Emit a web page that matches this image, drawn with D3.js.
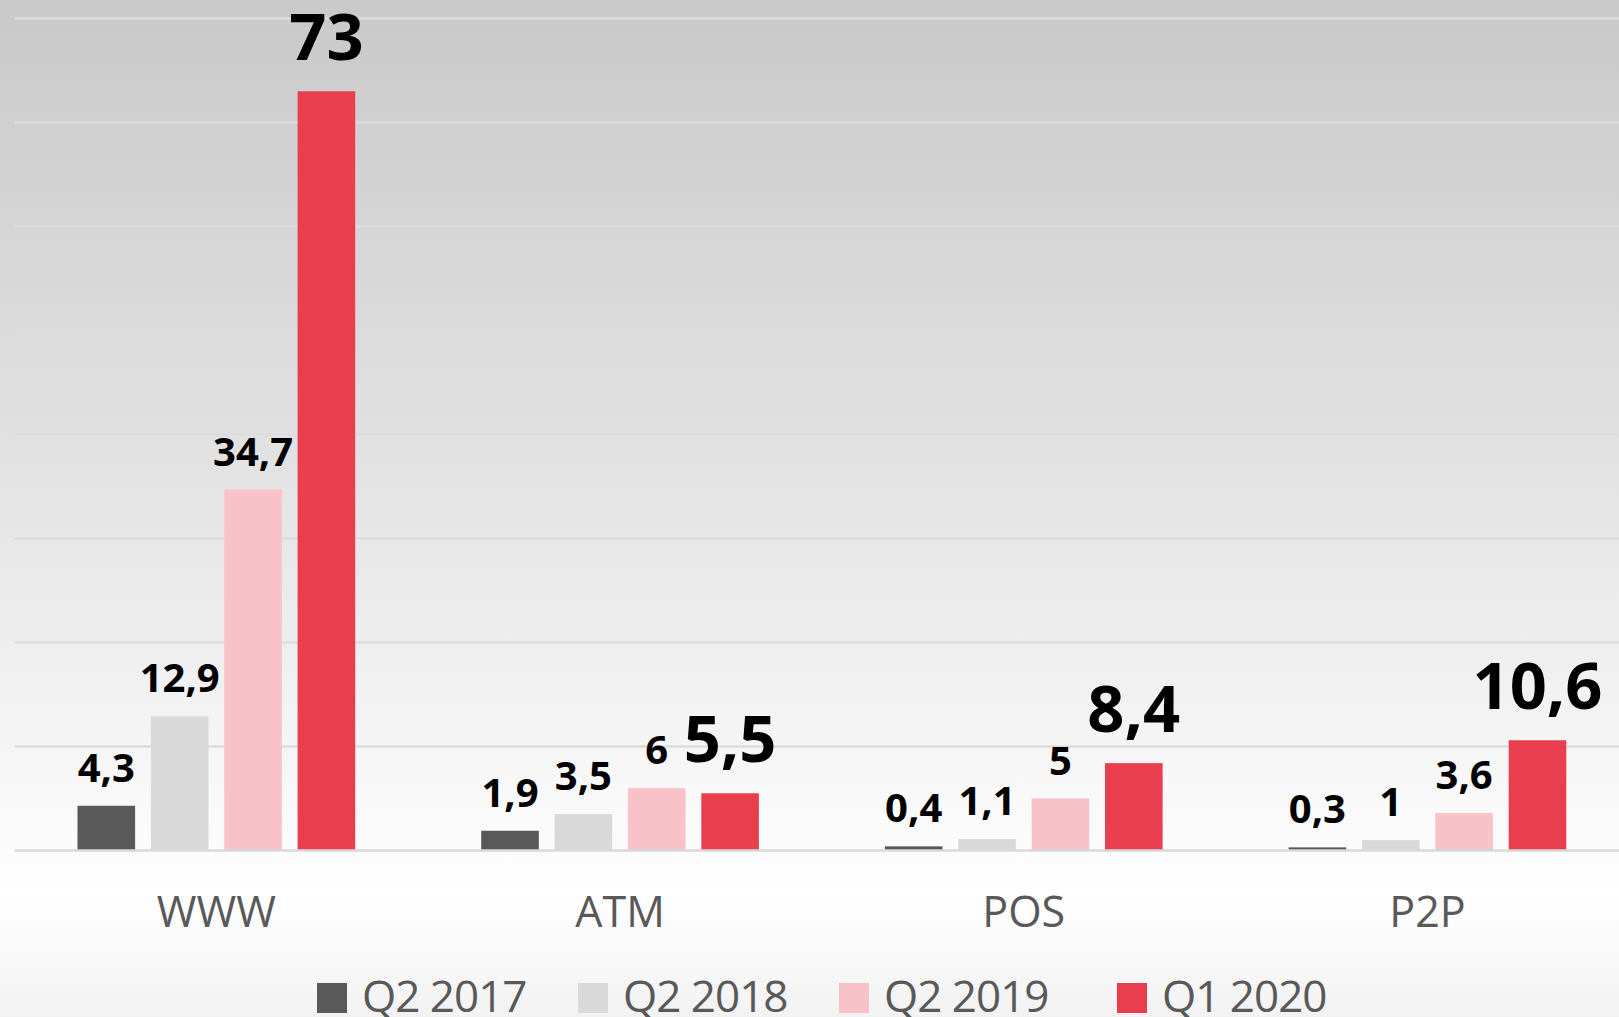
<!DOCTYPE html>
<html>
<head>
<meta charset="utf-8">
<script src="https://cdn.jsdelivr.net/npm/d3@7"></script>
<style>
  html, body { margin: 0; padding: 0; background: #ffffff; }
  svg { display: block; }
</style>
</head>
<body>
<svg class="svg1" width="1619" height="1017"></svg>
<script>
var categories = ["WWW", "ATM", "POS", "P2P"];
var seriesNames = ["Q2 2017", "Q2 2018", "Q2 2019", "Q1 2020"];
var seriesColors = ["#595959", "#d9d9d9", "#f8c2c8", "#e83e4e"];

var valuesQ22017 = [4.3, 1.9, 0.4, 0.3];
var valuesQ22018 = [12.9, 3.5, 1.1, 1];
var valuesQ22019 = [34.7, 6, 5, 3.6];
var valuesQ12020 = [73, 5.5, 8.4, 10.6];

var yTicks = [0, 10, 20, 30, 40, 50, 60, 70, 80];

var allSeries = [valuesQ22017, valuesQ22018, valuesQ22019, valuesQ12020];

var svg1 = d3.select(".svg1");
var width = +svg1.attr("width");
var height = +svg1.attr("height");

// background gradient
var defs = svg1.append("defs");
var grad = defs.append("linearGradient")
    .attr("id", "bg")
    .attr("x1", 0).attr("y1", 0).attr("x2", 0).attr("y2", 1);
grad.append("stop").attr("offset", "0%").attr("stop-color", "#c9c9c9");
grad.append("stop").attr("offset", "45%").attr("stop-color", "#e2e2e2");
grad.append("stop").attr("offset", "82%").attr("stop-color", "#fbfbfb");
grad.append("stop").attr("offset", "88%").attr("stop-color", "#ffffff");
grad.append("stop").attr("offset", "100%").attr("stop-color", "#f2f2f2");

svg1.append("rect")
    .attr("width", width)
    .attr("height", height)
    .attr("fill", "url(#bg)");

var plotLeft = 14.5;
var bandW = 403.7;

var scaleX = d3.scaleBand()
    .domain(categories)
    .range([plotLeft, plotLeft + bandW * categories.length]);

var scaleX1 = d3.scaleBand()
    .domain(seriesNames)
    .range([63, bandW - 63])
    .paddingInner(0.215);

var scaleY = d3.scaleLinear()
    .domain([0, 80])
    .range([850.5, 18.5]);

// gridlines
svg1.append("g")
    .selectAll("line")
    .data(yTicks.slice(1))
    .enter()
    .append("line")
    .attr("x1", plotLeft)
    .attr("x2", width)
    .attr("y1", function(d) { return scaleY(d); })
    .attr("y2", function(d) { return scaleY(d); })
    .style("stroke", "#dcdcdc")
    .style("stroke-width", "2.5px");

// bars
var groups = svg1.selectAll(".grp")
    .data(categories)
    .enter()
    .append("g")
    .attr("class", "grp")
    .attr("transform", function(d) { return "translate(" + scaleX(d) + ",0)"; });

function rowData(d, i) {
    return seriesNames.map(function(s, j) { return { series: s, idx: j, value: allSeries[j][i] }; });
}

groups.selectAll("rect")
    .data(rowData)
    .enter()
    .append("rect")
    .attr("x", function(d) { return scaleX1(d.series); })
    .attr("width", scaleX1.bandwidth())
    .attr("y", function(d) { return scaleY(d.value); })
    .attr("height", function(d) { return scaleY(0) - scaleY(d.value); })
    .attr("fill", function(d) { return seriesColors[d.idx]; });

// value labels, the last series gets the big ones
groups.selectAll("text")
    .data(rowData)
    .enter()
    .append("text")
    .attr("x", function(d) { return scaleX1(d.series) + scaleX1.bandwidth() / 2; })
    .attr("y", function(d) { return scaleY(d.value) - (d.idx == 3 ? 31 : 24); })
    .attr("text-anchor", "middle")
    .style("font-family", "'Open Sans', 'Noto Sans', sans-serif")
    .style("font-weight", "bold")
    .style("font-size", function(d) { return d.idx == 3 ? "65px" : "40px"; })
    .style("fill", "#000000")
    .text(function(d) { return String(d.value).replace(".", ","); });

// baseline
svg1.append("line")
    .attr("x1", plotLeft)
    .attr("x2", width)
    .attr("y1", scaleY(0))
    .attr("y2", scaleY(0))
    .style("stroke", "#d9d9d9")
    .style("stroke-width", "2.5px");

// category labels
var xAxis = d3.axisBottom(scaleX).tickSize(0).tickPadding(0);
var xg = svg1.append("g")
    .attr("transform", "translate(0," + scaleY(0) + ")")
    .call(xAxis);
xg.select(".domain").remove();
xg.selectAll("text")
    .attr("dy", null)
    .attr("y", 76)
    .style("font-family", "'Open Sans', 'Noto Sans', sans-serif")
    .style("font-size", "43px")
    .style("fill", "#595959");

// legend
var legendX = [317, 578, 839, 1117];
var legend = svg1.append("g").attr("class", "legend");
seriesNames.forEach(function(s, i) {
    legend.append("rect")
        .attr("x", legendX[i])
        .attr("y", 983)
        .attr("width", 30)
        .attr("height", 30)
        .attr("fill", seriesColors[i]);
    legend.append("text")
        .attr("x", legendX[i] + 45)
        .attr("y", 1012)
        .style("font-family", "'Open Sans', 'Noto Sans', sans-serif")
        .style("font-size", "44px")
        .style("letter-spacing", "-1px")
        .style("fill", "#595959")
        .text(s);
});
</script>
</body>
</html>
